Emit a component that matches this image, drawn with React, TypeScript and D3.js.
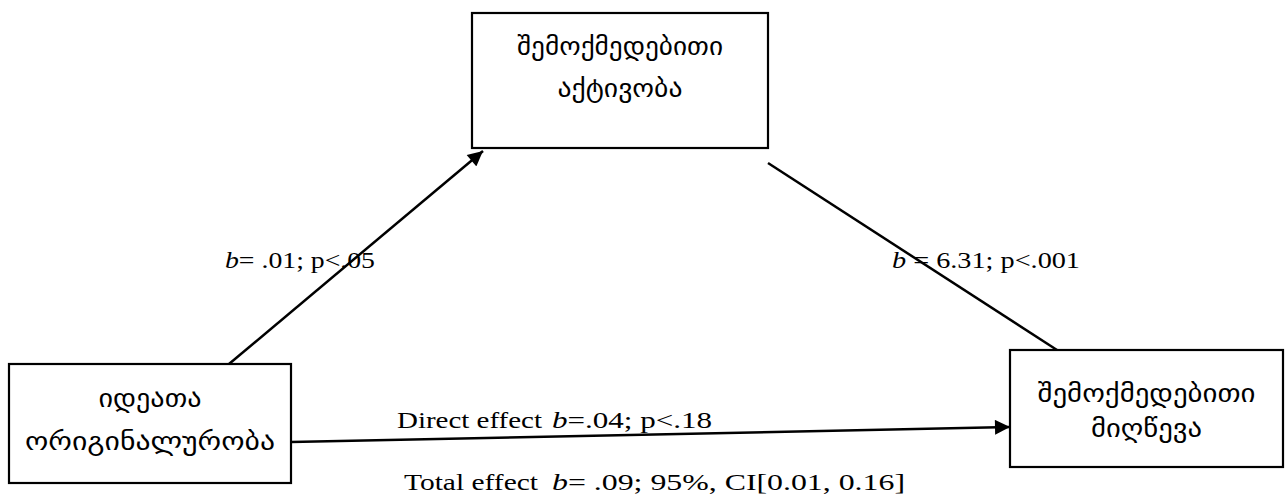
import React from 'react';
import * as d3 from 'd3';

// node labels (Georgian), one entry per box line
const mediatorLines = ['შემოქმედებითი', 'აქტივობა'];
const predictorLines = ['იდეათა', 'ორიგინალურობა'];
const outcomeLines = ['შემოქმედებითი', 'მიღწევა'];

// path coefficients
const pathA = { b: '= .01', p: '; p<.05' };
const pathB = { b: ' = 6.31', p: '; p<.001' };
const direct = { label: 'Direct effect', b: '=.04', p: '; p<.18' };
const total = { label: 'Total effect', b: '= .09', p: '; 95%, CI[0.01, 0.16]' };

const W = 1287;
const H = 495;

const geo = "'DejaVu Sans', serif";
const latin = "'Liberation Serif', 'Times New Roman', serif";

interface Box { x: number; y: number; w: number; h: number; lines: string[]; ty: number[]; tw: number[] }

const boxes: Box[] = [
  { x: 472, y: 13, w: 296, h: 135, lines: mediatorLines, ty: [55, 97], tw: [206, 125] },
  { x: 9, y: 364, w: 282, h: 119, lines: predictorLines, ty: [407, 450], tw: [103, 250] },
  { x: 1010, y: 350, w: 273, h: 117, lines: outcomeLines, ty: [402, 437], tw: [218, 111] },
];

const App: React.FC = () => {
  const line = d3.line<[number, number]>();
  const arrows: { pts: [number, number][]; head: boolean }[] = [
    { pts: [[229, 364], [483, 151]], head: true },
    { pts: [[768, 163], [1057, 350]], head: false },
    { pts: [[291, 442], [1010, 427]], head: true },
  ];

  const txt = (x: number, y: number, w: number, children: React.ReactNode) => (
    <text x={x} y={y} fontFamily={latin} fontSize={24} fill="#000" style={{ whiteSpace: 'pre' }}
      textLength={w} lengthAdjust="spacingAndGlyphs">
      {children}
    </text>
  );
  const coef = (b: string, p: string) => (<><tspan fontStyle="italic">b</tspan>{b}{p}</>);

  return (
    <div style={{ position: 'absolute', left: 0, top: 0 }}>
      <svg width={W} height={H} style={{ display: 'block', background: '#fff' }}>
        <defs>
          <marker id="arr" viewBox="0 0 10 10" refX="10" refY="5" markerWidth="6.5" markerHeight="6" markerUnits="strokeWidth" orient="auto">
            <path d="M0,0 L10,5 L0,10 Z" fill="#000" />
          </marker>
        </defs>
        {arrows.map((a, i) => (
          <path key={i} d={line(a.pts) || ''} stroke="#000" strokeWidth={2.5} fill="none"
            markerEnd={a.head ? 'url(#arr)' : undefined} />
        ))}
        {boxes.map((b, i) => (
          <g key={i}>
            <rect x={b.x} y={b.y} width={b.w} height={b.h} fill="none" stroke="#000" strokeWidth={2.2} />
            {b.lines.map((t, j) => (
              <text key={j} x={b.x + b.w / 2} y={b.ty[j]} textAnchor="middle" fontFamily={geo} fontSize={25}
                fill="#000" textLength={b.tw[j]} lengthAdjust="spacingAndGlyphs">{t}</text>
            ))}
          </g>
        ))}
        {txt(225, 268, 150, coef(pathA.b, pathA.p))}
        {txt(892, 268, 188, coef(pathB.b, pathB.p))}
        {txt(397, 428, 145, direct.label)}
        {txt(552, 428, 160, coef(direct.b, direct.p))}
        {txt(404, 490, 134, total.label)}
        {txt(552, 490, 353, coef(total.b, total.p))}
      </svg>
    </div>
  );
};

export default App;
